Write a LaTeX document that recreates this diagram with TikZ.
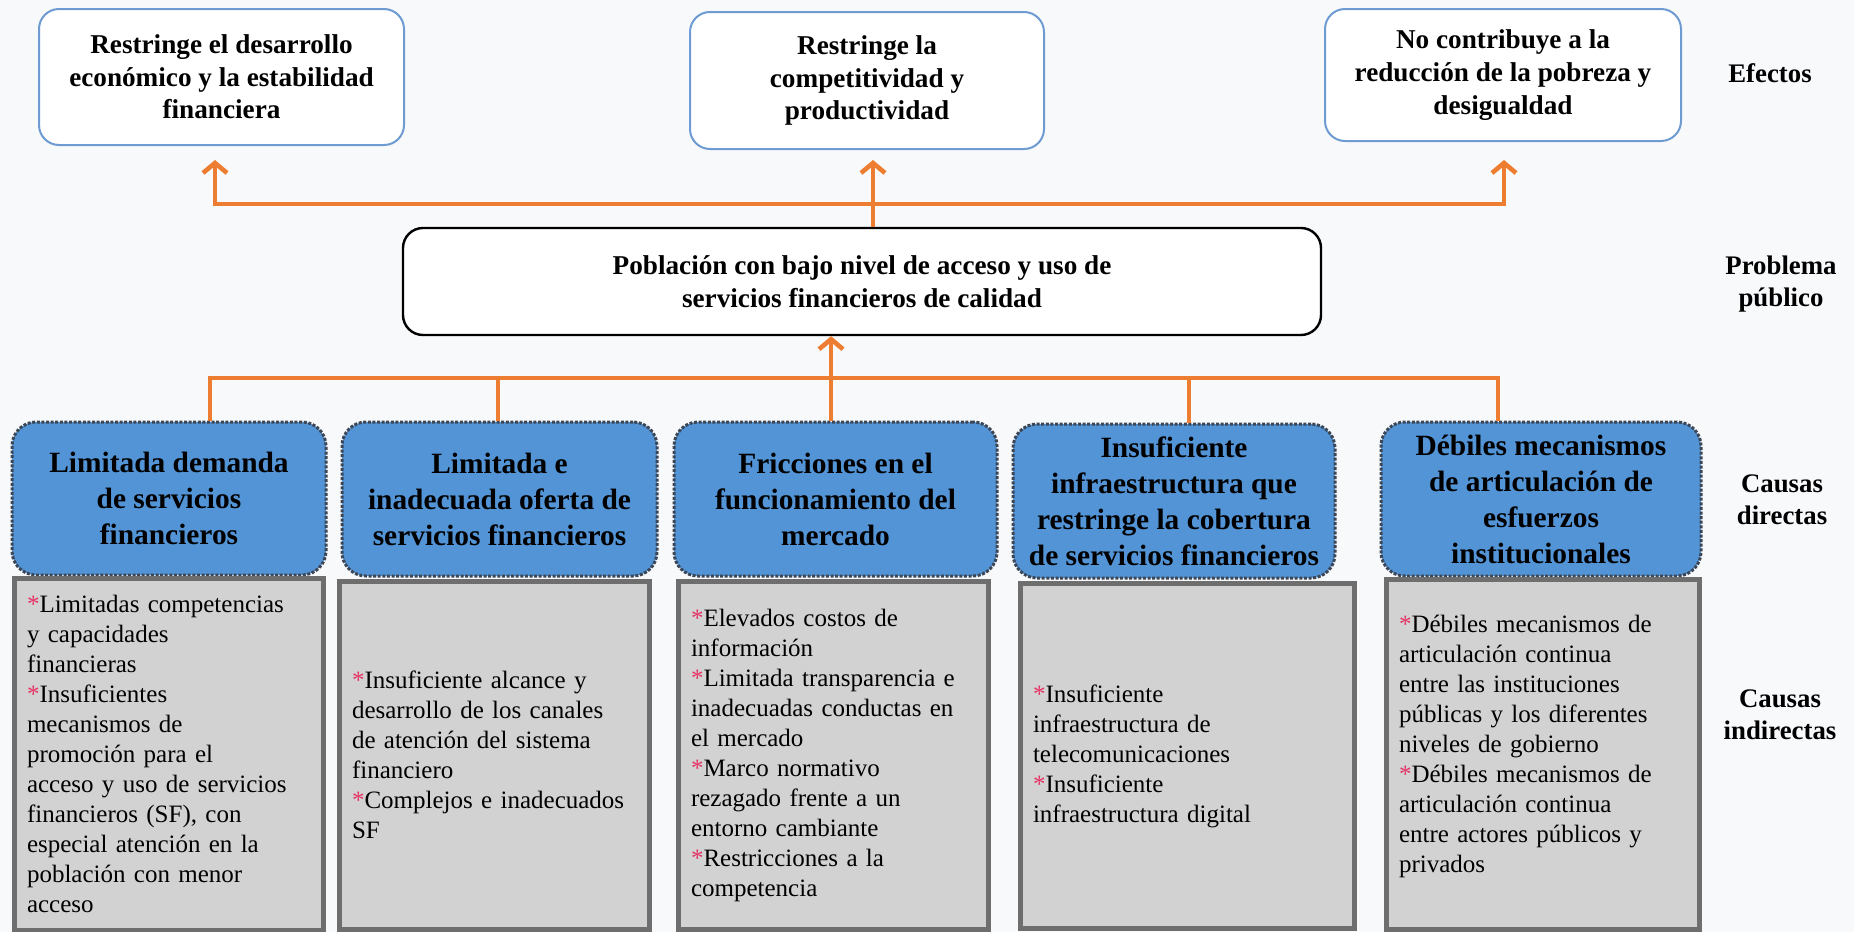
\documentclass[tikz,border=0pt]{standalone}
\usepackage{fontspec}
\setmainfont{Liberation Serif}
\usetikzlibrary{arrows.meta}
\definecolor{bg}{RGB}{248,249,251}
\definecolor{orng}{RGB}{237,125,49}
\definecolor{effblue}{RGB}{110,155,210}
\definecolor{causeblue}{RGB}{82,148,214}
\definecolor{causeedge}{RGB}{60,70,85}
\definecolor{greyfill}{RGB}{210,210,211}
\definecolor{greyedge}{RGB}{110,110,110}
\definecolor{astred}{RGB}{230,50,100}
\newcommand\rast{{\color{astred}*}}
\begin{document}
\begin{tikzpicture}[x=0.5pt,y=-0.5pt,
  effbox/.style={draw=effblue, line width=1pt, rounded corners=10pt, fill=white, align=center, font=\fontsize{13.6}{16.3}\selectfont\bfseries, inner sep=0pt},
  probbox/.style={draw=black, line width=1.2pt, rounded corners=10pt, fill=white, align=center, font=\fontsize{13.6}{16.5}\selectfont\bfseries, inner sep=0pt},
  causebox/.style={draw=causeedge, fill=causeblue, line width=1.5pt, dash pattern=on 1.5pt off 0.8pt, rounded corners=12pt, align=center, font=\fontsize{14.7}{18}\selectfont\bfseries, inner sep=0pt},
  greybox/.style={draw=greyedge, fill=greyfill, line width=2.5pt, align=left, font=\fontsize{12.5}{15}\selectfont, inner xsep=6.5pt, inner ysep=0pt},
  lbl/.style={align=center, font=\fontsize{13.4}{16}\selectfont\bfseries},
  oline/.style={draw=orng, line width=2.3pt},
  uarrow/.style={-{Straight Barb[length=5pt,width=12pt]}}
]
\fill[bg] (0,0) rectangle (1854,932);
\useasboundingbox (0,0) rectangle (1854,932);

% effects
\node[effbox, minimum width=182.5pt, minimum height=68pt] (e1) at (221.5,77) {Restringe el desarrollo\\económico y la estabilidad\\financiera};
\node[effbox, minimum width=177pt, minimum height=68.5pt] (e2) at (867,80.5) {Restringe la\\competitividad y\\productividad};
\node[effbox, minimum width=178pt, minimum height=66pt] (e3) at (1503,75) {No contribuye a la\\reducción de la pobreza y\\desigualdad};

% problem
\node[probbox, minimum width=459pt, minimum height=53.5pt] (prob) at (862,281.5) {Población con bajo nivel de acceso y uso de\\servicios financieros de calidad};

% direct causes
\node[causebox, minimum width=157pt, minimum height=76.5pt] (c1) at (169,498.5) {Limitada demanda\\de servicios\\financieros};
\node[causebox, minimum width=157.5pt, minimum height=77pt] (c2) at (499.5,499) {Limitada e\\inadecuada oferta de\\servicios financieros};
\node[causebox, minimum width=161.5pt, minimum height=77pt] (c3) at (835.5,499) {Fricciones en el\\funcionamiento del\\mercado};
\node[causebox, minimum width=161pt, minimum height=77pt] (c4) at (1174,501) {Insuficiente\\infraestructura que\\restringe la cobertura\\de servicios financieros};
\node[causebox, minimum width=160pt, minimum height=77pt] (c5) at (1541,499) {Débiles mecanismos\\de articulación de\\esfuerzos\\institucionales};

% indirect causes
\node[greybox, text width=141.5pt, minimum height=176pt] (g1) at (168.5,754) {\rast Limitadas competencias\\y capacidades\\financieras\\\rast Insuficientes\\mecanismos de\\promoción para el\\acceso y uso de servicios\\financieros (SF), con\\especial atención en la\\población con menor\\acceso};
\node[greybox, text width=142pt, minimum height=174pt] (g2) at (494,755) {\rast Insuficiente alcance y\\desarrollo de los canales\\de atención del sistema\\financiero\\\rast Complejos e inadecuados\\SF};
\node[greybox, text width=142pt, minimum height=174pt] (g3) at (833,755) {\rast Elevados costos de\\información\\\rast Limitada transparencia e\\inadecuadas conductas en\\el mercado\\\rast Marco normativo\\rezagado frente a un\\entorno cambiante\\\rast Restricciones a la\\competencia};
\node[greybox, text width=154pt, minimum height=172.5pt] (g4) at (1187,756) {\rast Insuficiente\\infraestructura de\\telecomunicaciones\\\rast Insuficiente\\infraestructura digital};
\node[greybox, text width=143.5pt, minimum height=175pt] (g5) at (1542.5,754) {\rast Débiles mecanismos de\\articulación continua\\entre las instituciones\\públicas y los diferentes\\niveles de gobierno\\\rast Débiles mecanismos de\\articulación continua\\entre actores públicos y\\privados\\[-5pt]\mbox{}};

% labels
\node[lbl] (lef) at (1770,73) {Efectos};
\node[lbl] (lpp) at (1781,284) {Problema\\público};
\node[lbl] (lcd) at (1782,500) {Causas\\directas};
\node[lbl] (lci) at (1780,715) {Causas\\indirectas};

% connectors
\coordinate (u1) at (215,204);
\coordinate (u2) at (873,204);
\coordinate (u3) at (1504,204);
\coordinate (t1) at (215,160);
\coordinate (t2) at (873,160);
\coordinate (t3) at (1504,160);
\draw[oline, line cap=rect] (u1) -- (u3);
\draw[oline, uarrow] (u1) -- (t1);
\draw[oline, uarrow] (u3) -- (t3);
\draw[oline, uarrow] (prob.north -| u2) -- (t2);

\coordinate (d1) at (210,378);
\coordinate (d2) at (498,378);
\coordinate (d3) at (831,378);
\coordinate (d4) at (1189,378);
\coordinate (d5) at (1498,378);
\draw[oline] (c1.north -| d1) -- (d1) -- (d5) -- (c5.north -| d5);
\draw[oline] (c2.north -| d2) -- (d2);
\draw[oline] (c4.north -| d4) -- (d4);
\draw[oline, uarrow] (c3.north -| d3) -- (prob.south -| d3);
\end{tikzpicture}
\end{document}
